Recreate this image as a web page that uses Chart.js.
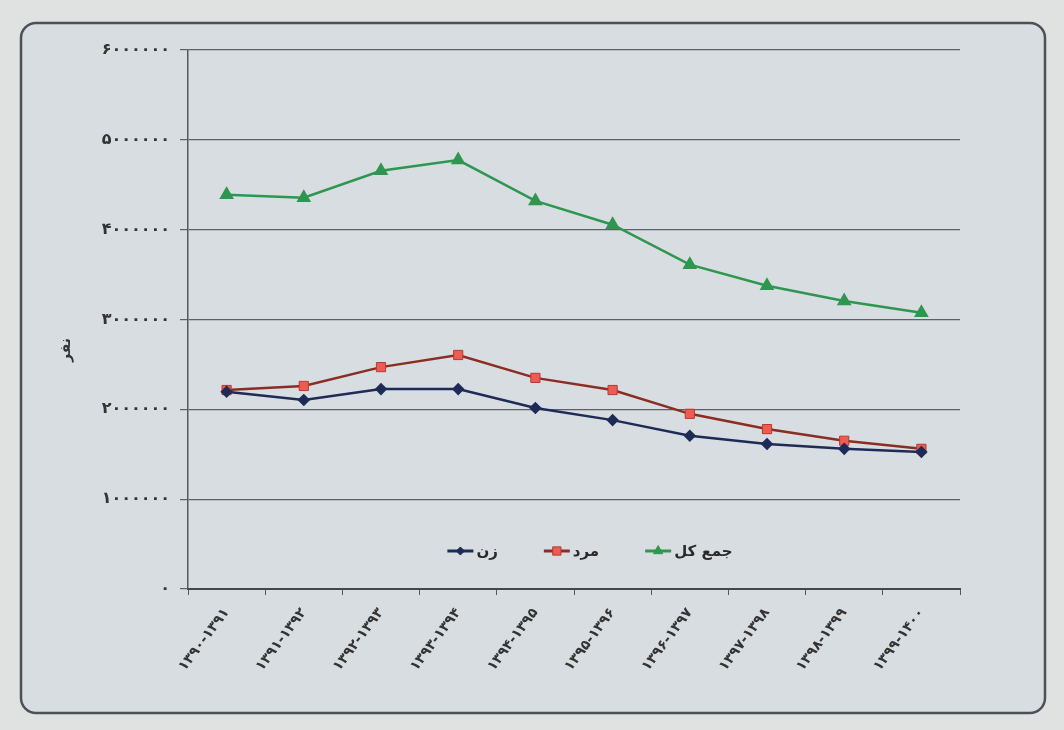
<!DOCTYPE html>
<html><head><meta charset="utf-8">
<script src="https://cdn.jsdelivr.net/npm/chart.js@4"></script>
<style>html,body{margin:0;padding:0;background:#e0e2e2;}canvas{display:block}</style>
</head><body>
<canvas id="c" width="1064" height="730"></canvas>
<script>
const categories = ['۱۳۹۰-۱۳۹۱','۱۳۹۱-۱۳۹۲','۱۳۹۲-۱۳۹۳','۱۳۹۳-۱۳۹۴','۱۳۹۴-۱۳۹۵','۱۳۹۵-۱۳۹۶','۱۳۹۶-۱۳۹۷','۱۳۹۷-۱۳۹۸','۱۳۹۸-۱۳۹۹','۱۳۹۹-۱۴۰۰'];
const female = [2195000, 2105000, 2225000, 2225000, 2015000, 1880000, 1705000, 1615000, 1560000, 1525000];
const male   = [2215000, 2260000, 2470000, 2605000, 2350000, 2215000, 1950000, 1780000, 1650000, 1560000];
const total  = [4390000, 4355000, 4655000, 4775000, 4320000, 4055000, 3610000, 3375000, 3205000, 3075000];
const seriesNames = ['زن', 'مرد', 'جمع کل'];
const yTitle = 'نفر';
const yMin = 0, yMax = 6000000, yStep = 1000000;

const FONT = "'DejaVu Sans', sans-serif";
const faDigits = '۰۱۲۳۴۵۶۷۸۹';
const toFa = v => String(v).replace(/[0-9]/g, d => faDigits[+d]);

const bgPlugin = {
  id: 'bg',
  beforeDraw(chart) {
    const ctx = chart.ctx;
    ctx.save();
    ctx.fillStyle = '#e0e2e2';
    ctx.fillRect(0, 0, chart.width, chart.height);
    ctx.beginPath();
    ctx.roundRect(21, 23, 1024, 690, 15);
    ctx.fillStyle = '#d7dde0';
    ctx.fill();
    ctx.lineWidth = 2.5;
    ctx.strokeStyle = '#4b5157';
    ctx.stroke();
    ctx.restore();
  }
};

const extrasPlugin = {
  id: 'extras',
  afterDraw(chart) {
    const ctx = chart.ctx;
    ctx.save();
    ctx.font = "bold 14px " + FONT;
    ctx.fillStyle = '#333';
    ctx.textAlign = 'center';
    ctx.textBaseline = 'middle';
    ctx.translate(66, 350);
    ctx.rotate(-Math.PI / 2);
    ctx.fillText(yTitle, 0, 0);
    ctx.restore();

    ctx.save();
    ctx.font = "bold 15px " + FONT;
    ctx.textBaseline = 'middle';
    ctx.textAlign = 'left';
    const ly = 551;
    const lineLen = 26, gapText = 3, gapItem = 46;
    const items = chart.data.datasets.map(ds => ({ds, w: ctx.measureText(ds.label).width}));
    const totalW = items.reduce((s, it) => s + lineLen + gapText + it.w, 0) + gapItem * (items.length - 1);
    let x = 590 - totalW / 2;
    items.forEach(({ds, w}) => {
      ctx.strokeStyle = ds.borderColor;
      ctx.lineWidth = 3;
      ctx.beginPath();
      ctx.moveTo(x, ly); ctx.lineTo(x + lineLen, ly);
      ctx.stroke();
      ctx.fillStyle = ds.pointBackgroundColor;
      ctx.strokeStyle = ds.pointBorderColor;
      ctx.lineWidth = 1;
      Chart.helpers.drawPoint(ctx, {pointStyle: ds.pointStyle, radius: ds.pointRadius * 0.9, rotation: 0, borderWidth: 1}, x + lineLen / 2, ly);
      ctx.fillStyle = '#2a2a2a';
      ctx.fillText(ds.label, x + lineLen + gapText, ly + 1);
      x += lineLen + gapText + w + gapItem;
    });
    ctx.restore();
  }
};

new Chart(document.getElementById('c'), {
  type: 'line',
  data: {
    labels: categories,
    datasets: [
      {label: seriesNames[0], data: female, borderColor: '#1e2b57', backgroundColor: '#1e2b57',
       pointStyle: 'rectRot', pointRadius: 4.5, pointBackgroundColor: '#1e2b57', pointBorderColor: '#1e2b57',
       borderWidth: 2.5, tension: 0},
      {label: seriesNames[1], data: male, borderColor: '#8a2d22', backgroundColor: '#e9564f',
       pointStyle: 'rect', pointRadius: 6.5, pointBackgroundColor: '#ec5c53', pointBorderColor: '#b8392f',
       pointBorderWidth: 1, borderWidth: 2.5, tension: 0},
      {label: seriesNames[2], data: total, borderColor: '#2f9650', backgroundColor: '#2f9650',
       pointStyle: 'triangle', pointRadius: 6, pointBackgroundColor: '#2f9650', pointBorderColor: '#2f9650',
       borderWidth: 2.5, tension: 0}
    ]
  },
  options: {
    responsive: false,
    animation: false,
    layout: {padding: {top: 50, right: 104, left: 0, bottom: 0}},
    plugins: {legend: {display: false}, tooltip: {enabled: false}},
    scales: {
      x: {
        offset: true,
        grid: {offset: true, drawOnChartArea: false, drawTicks: true, tickLength: 6, color: '#55595c', lineWidth: 1},
        border: {color: '#44484b', width: 2},
        ticks: {minRotation: 53, maxRotation: 53, font: {family: FONT, size: 14, weight: 'bold'}, color: '#333', padding: 10},
        afterFit: s => { s.height = 141; }
      },
      y: {
        min: yMin, max: yMax,
        ticks: {stepSize: yStep, callback: v => toFa(v), font: {family: FONT, size: 16, weight: 'bold'}, color: '#333', padding: 10},
        grid: {color: '#5d6164', lineWidth: 1.2, tickLength: 8, drawTicks: true},
        border: {color: '#55595c', width: 1.5},
        afterFit: s => { s.width = 188; }
      }
    }
  },
  plugins: [bgPlugin, extrasPlugin]
});
</script>
</body></html>
